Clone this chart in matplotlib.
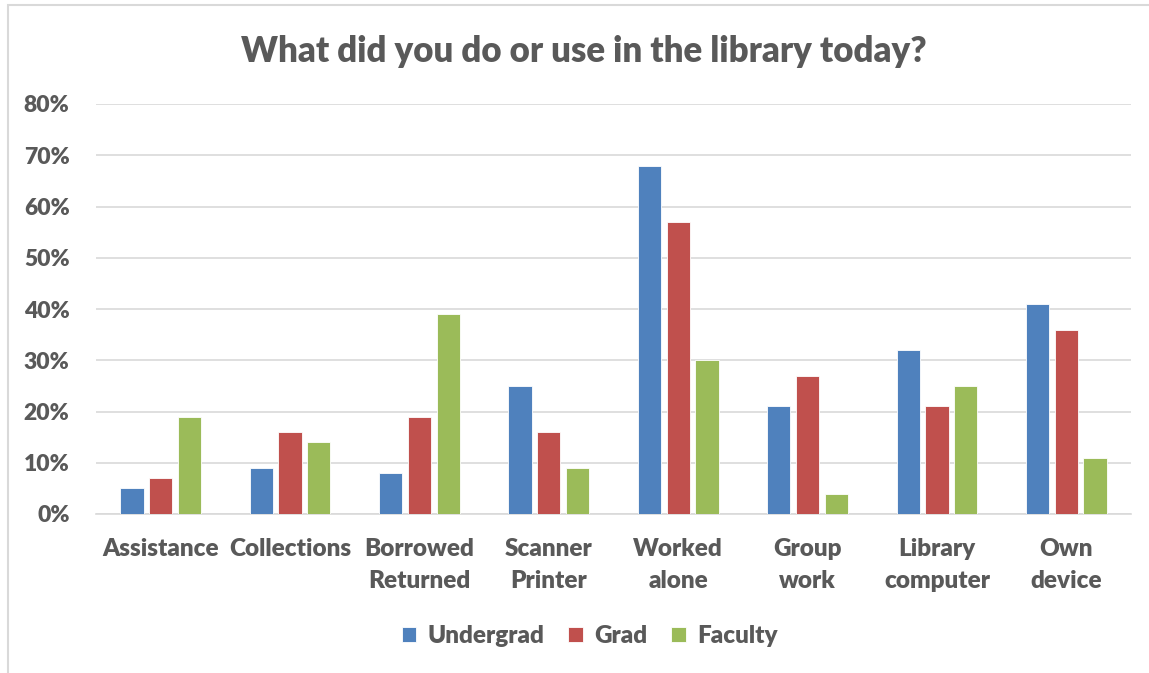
import matplotlib
matplotlib.use("Agg")
import matplotlib.pyplot as plt
import numpy as np
from matplotlib.patches import Rectangle

categories = ["Assistance", "Collections", "Borrowed\nReturned", "Scanner\nPrinter",
              "Worked\nalone", "Group\nwork", "Library\ncomputer", "Own\ndevice"]
undergrad = [5, 9, 8, 25, 68, 21, 32, 41]
grad = [7, 16, 19, 16, 57, 27, 21, 36]
faculty = [19, 14, 39, 9, 30, 4, 25, 11]
series_names = ["Undergrad", "Grad", "Faculty"]
colors = ["#4F81BD", "#C0504D", "#9BBB59"]
yticks = [0, 10, 20, 30, 40, 50, 60, 70, 80]

TXT = "#595959"
plt.rcParams["font.family"] = ["Lato", "DejaVu Sans"]
plt.rcParams["font.weight"] = "heavy"

fig = plt.figure(figsize=(11.49, 6.73), dpi=100)
fig.patches.append(Rectangle((8 / 1149, -0.1), 1.2, 1 - 5 / 673 + 0.1,
                             transform=fig.transFigure, fill=False,
                             edgecolor="#D9D9D9", linewidth=1.5))
ax = fig.add_axes([96 / 1149, 1 - 514 / 673, (1131 - 96) / 1149, (514 - 104) / 673])

x = np.arange(len(categories))
w = 0.18
off = 0.222
for i, (vals, name) in enumerate(zip([undergrad, grad, faculty], series_names)):
    ax.bar(x + (i - 1) * off, vals, w, color=colors[i], label=name, zorder=3,
           edgecolor="white", linewidth=0.6)

ax.set_xlim(-0.5, len(categories) - 0.5)
ax.set_ylim(0, 80)
ax.set_yticks(yticks)
ax.set_yticklabels([f"{t}%" for t in yticks])
ax.set_xticks(x)
ax.set_xticklabels(categories, linespacing=1.55)
ax.grid(axis="y", color="#D9D9D9", linewidth=1.2, zorder=0)
for s in ["top", "right", "left"]:
    ax.spines[s].set_visible(False)
ax.spines["bottom"].set_color("#D9D9D9")
ax.spines["bottom"].set_linewidth(1.2)
ax.tick_params(axis="both", length=0, labelsize=17.5, labelcolor=TXT)
ax.tick_params(axis="y", labelsize=16.5, pad=19)
ax.tick_params(axis="x", pad=17)
for lab in ax.get_xticklabels() + ax.get_yticklabels():
    lab.set_fontweight("heavy")

fig.text(0.508, 1 - 51 / 673, "What did you do or use in the library today?",
         ha="center", va="center", fontsize=25, fontweight="heavy", color=TXT)

leg = fig.legend(loc="center", bbox_to_anchor=(0.513, 1 - 636 / 673), ncol=3,
                 frameon=False, fontsize=17.5, handlelength=0.6, handleheight=0.6,
                 handletextpad=0.45, columnspacing=1.0)
for t in leg.get_texts():
    t.set_color(TXT)
    t.set_fontweight("heavy")

fig.savefig("out.png", dpi=100)
